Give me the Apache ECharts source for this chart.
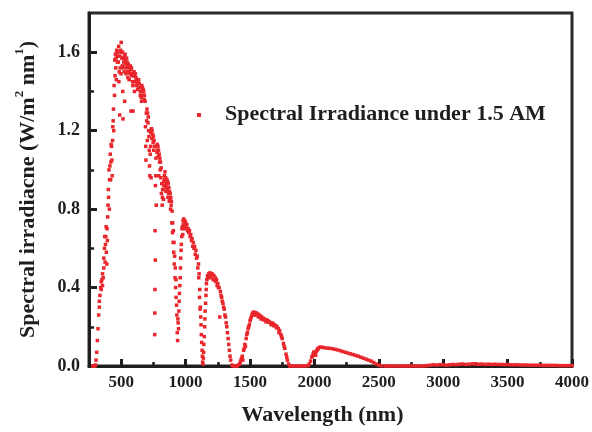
<!DOCTYPE html>
<html><head><meta charset="utf-8">
<script src="https://cdn.jsdelivr.net/npm/echarts@6/dist/echarts.min.js"></script>
<style>html,body{margin:0;padding:0;background:#fff}#c{width:592px;height:432px}</style>
</head><body><div id="c"></div>
<script>
// Wavelength (nm) and spectral irradiance (W/m^2/nm)
const wavelength = [
280,285,290,295,300,305,310,315,320,325,330,335,340,345,350,355,360,365,370,375,380,385,390,395,
400,405,410,415,420,425,430,435,440,445,450,455,460,465,470,475,480,485,490,495,500,505,510,515,
520,525,530,535,540,545,550,555,560,565,570,575,580,585,590,595,600,605,610,615,620,625,630,635,
640,645,650,655,660,665,670,675,680,685,690,695,700,705,710,715,720,725,730,735,740,745,750,755,
760,765,770,775,780,785,790,795,800,805,810,815,820,825,830,835,840,845,850,855,860,865,870,875,
880,885,890,895,900,905,910,915,920,925,930,935,940,945,950,955,960,965,970,975,980,985,990,995,
1000,1010,1020,1030,1040,1050,1060,1070,1080,1090,1100,1105,1110,1115,1120,1125,1130,1135,1140,1145,
1150,1155,1160,1165,1170,1180,1190,1200,1210,1220,1230,1240,1250,1260,1270,1280,1290,1300,1310,1320,
1330,1340,1350,1360,1370,1380,1390,1400,1410,1420,1430,1440,1450,1460,1470,1480,1490,1500,1510,1520,
1530,1540,1550,1560,1570,1580,1590,1600,1610,1620,1630,1640,1650,1660,1670,1680,1690,1700,1710,1720,
1730,1740,1750,1760,1770,1780,1790,1800,1810,1830,1850,1870,1890,1910,1930,1950,1960,1970,1980,1990,
2000,2010,2020,2030,2040,2050,2060,2080,2100,2120,2140,2160,2180,2200,2220,2240,2260,2280,2300,2320,
2340,2360,2380,2400,2420,2440,2460,2480,2500,2520,2550,2575,2600,2625,2650,2675,2700,2725,2750,2775,
2800,2825,2850,2875,2900,2925,2950,2975,3000,3025,3050,3075,3100,3125,3150,3175,3200,3225,3250,3275,
3300,3325,3350,3375,3400,3425,3450,3475,3500,3525,3550,3575,3600,3625,3650,3675,3700,3725,3750,3775,
3800,3825,3850,3875,3900,3925,3950,3975,4000
];
const irradiance = [
0,0,0,0,0.005,0.03,0.07,0.13,0.19,0.26,0.33,0.36,0.40,0.39,0.44,0.47,0.45,0.55,0.60,0.53,0.66,0.58,0.70,0.76,
0.90,1.00,0.95,1.08,1.04,1.12,0.97,1.22,1.31,1.43,1.56,1.59,1.57,1.61,1.55,1.60,1.63,1.50,1.58,1.61,1.65,1.57,1.60,1.52,
1.55,1.58,1.59,1.54,1.52,1.55,1.53,1.54,1.50,1.52,1.53,1.51,1.52,1.49,1.43,1.48,1.50,1.48,1.49,1.47,1.46,1.44,1.45,1.46,
1.44,1.42,1.40,1.37,1.43,1.42,1.41,1.40,1.38,1.35,1.12,1.29,1.31,1.29,1.27,1.17,1.02,1.08,1.19,1.21,1.20,1.18,1.17,1.15,
0.16,0.54,1.06,1.12,1.13,1.12,1.10,1.08,1.06,1.04,1.01,0.93,0.86,0.90,0.94,0.97,0.99,0.96,0.93,0.95,0.94,0.93,0.91,0.89,
0.88,0.86,0.84,0.79,0.73,0.69,0.63,0.56,0.50,0.44,0.31,0.17,0.24,0.19,0.33,0.41,0.50,0.59,0.66,0.71,0.74,0.75,0.74,0.74,
0.73,0.72,0.70,0.69,0.67,0.65,0.63,0.61,0.59,0.56,0.52,0.47,0.39,0.30,0.21,0.12,0.05,0.01,0.07,0.15,
0.24,0.32,0.39,0.44,0.46,0.47,0.475,0.47,0.465,0.46,0.45,0.44,0.42,0.40,0.38,0.35,0.32,0.29,0.25,0.20,
0.14,0.08,0.03,0.005,0,0,0,0,0.005,0.01,0.03,0.05,0.08,0.11,0.14,0.17,0.20,0.23,0.25,0.27,
0.275,0.27,0.27,0.265,0.26,0.255,0.25,0.245,0.24,0.235,0.235,0.23,0.225,0.22,0.22,0.215,0.21,0.205,0.20,0.19,
0.18,0.16,0.14,0.115,0.09,0.06,0.03,0.01,0,0,0,0,0,0,0,0.002,0.01,0.025,0.045,0.06,
0.07,0.055,0.08,0.09,0.095,0.096,0.095,0.093,0.091,0.09,0.088,0.085,0.082,0.078,0.074,0.07,0.066,0.062,0.058,0.054,
0.05,0.045,0.04,0.035,0.03,0.025,0.018,0.01,0.004,0.001,0,0,0,0,0,0,0,0,0,0,
0,0,0,0.002,0.004,0.006,0.005,0.007,0.006,0.004,0.006,0.008,0.007,0.009,0.010,0.008,0.009,0.011,0.010,0.009,
0.010,0.008,0.009,0.008,0.009,0.008,0.008,0.007,0.007,0.006,0.006,0.006,0.005,0.005,0.005,0.004,0.004,0.004,0.004,0.003,
0.003,0.003,0.003,0.003,0.002,0.002,0.002,0.002,0.002
];
// Extra scattered readings (absorption lines / spread of the cloud)
const spreadPoints = [
[330,0.30],[345,0.43],[355,0.41],[365,0.50],[372,0.66],[378,0.62],[383,0.71],[388,0.52],[393,0.64],[398,0.82],
[402,0.86],[408,0.80],[412,1.02],[418,0.95],[422,1.13],[428,1.05],[433,1.15],[438,1.25],[442,1.20],[448,1.38],
[452,1.48],[458,1.52],[462,1.46],[468,1.60],[472,1.58],[478,1.55],[482,1.45],[488,1.28],[492,1.52],[498,1.49],
[502,1.60],[508,1.53],[512,1.40],[514,1.26],[518,1.57],[522,1.50],[527,1.35],[532,1.56],[538,1.49],[542,1.57],
[548,1.50],[552,1.47],[558,1.53],[562,1.46],[568,1.49],[576,1.30],[582,1.48],[588,1.45],[592,1.30],[598,1.45],
[603,1.40],[612,1.45],[618,1.43],[628,1.41],[638,1.42],[648,1.38],[654,1.38],[658,1.35],[668,1.38],[678,1.36],
[688,1.22],[692,1.05],[698,1.25],[703,1.15],[708,1.24],[713,1.20],[718,1.10],[722,0.97],[724,1.20],[728,1.12],
[732,0.96],[738,1.16],[748,1.14],[752,1.10],[758,1.12],[761,0.27],[762,0.39],[763,0.69],[766,0.92],[768,0.97],
[772,0.82],[778,1.09],[782,1.10],[788,1.07],[792,0.97],[798,1.04],[803,1.00],[808,0.96],[812,0.88],[818,0.82],
[822,0.90],[828,0.85],[833,0.92],[838,0.95],[843,0.92],[848,0.89],[852,0.91],[858,0.90],[863,0.86],[868,0.88],
[873,0.84],[878,0.85],[883,0.80],[888,0.82],[893,0.73],[898,0.68],[903,0.63],[908,0.58],[912,0.52],[918,0.45],
[922,0.40],[926,0.35],[932,0.26],[938,0.13],[942,0.22],[948,0.28],[952,0.37],[958,0.45],[962,0.55],[967,0.62],
[972,0.70],[978,0.67],[982,0.72],[992,0.70],[1002,0.71],[1015,0.69],[1025,0.68],[1035,0.66],[1045,0.64],[1055,0.61],
[1065,0.60],[1075,0.57],[1085,0.55],[1095,0.50],[1102,0.45],[1108,0.35],[1112,0.29],[1118,0.25],[1122,0.16],[1128,0.08],
[1132,0.02],[1138,0.04],[1142,0.11],[1148,0.20],[1152,0.28],[1158,0.36],[1162,0.42],[1175,0.45],[1185,0.46],[1195,0.45],
[1205,0.47],[1215,0.44],[1225,0.44],[1235,0.43],[1245,0.41],[1255,0.40],[1265,0.25],[1275,0.36],[1285,0.33],[1295,0.30],
[1305,0.26],[1315,0.22],[1325,0.17],[1335,0.11],[1345,0.05],[1425,0.02],[1435,0.04],[1445,0.03],[1455,0.09],[1465,0.10],
[1475,0.16],[1485,0.19],[1495,0.21],[1505,0.24],[1515,0.26],[1525,0.26],[1545,0.26],[1565,0.25],[1585,0.24],[1605,0.235],
[1625,0.225],[1645,0.225],[1665,0.21],[1685,0.205],[1705,0.195],[1725,0.17],[1745,0.15],[1765,0.10],[1785,0.045],[1985,0.05],
[1995,0.07],[2005,0.06],[2015,0.075],[2025,0.085]
];
const xMajorTicks = [500,1000,1500,2000,2500,3000,3500,4000];
const xMinorTicks = [750,1250,1750,2250,2750,3250,3750];
const yMajorTicks = [0,0.4,0.8,1.2,1.6];
const yMinorTicks = [0.2,0.6,1.0,1.4];
const seriesName = 'Spectral Irradiance under 1.5 AM';
const xName = 'Wavelength (nm)';

const serif = "'Liberation Serif','Times New Roman',serif";
const red = '#e8262b';
const ink = '#1e1e1e';
const points = wavelength.map((w, i) => [w, irradiance[i]]).concat(spreadPoints);

const chart = echarts.init(document.getElementById('c'), null, {renderer: 'canvas'});
chart.setOption({
  animation: false,
  backgroundColor: '#fff',
  grid: {left: 89, right: 20, top: 13, bottom: 66, show: true, borderColor: '#2a2a2a', borderWidth: 3, backgroundColor: 'transparent'},
  xAxis: [{
    type: 'value', min: 250, max: 4000, interval: 250, position: 'bottom',
    name: xName, nameLocation: 'middle', nameGap: 38,
    nameTextStyle: {fontFamily: serif, fontWeight: 'bold', fontSize: 22, color: ink, padding: [0, 16, 0, 0]},
    axisLine: {show: true, onZero: false, lineStyle: {color: ink, width: 3}},
    axisTick: {show: true, inside: true, length: 7, lineStyle: {color: ink, width: 3}, customValues: xMajorTicks},
    axisLabel: {customValues: xMajorTicks, formatter: v => String(v), fontFamily: serif, fontWeight: 'bold', fontSize: 17, color: ink, margin: 8},
    splitLine: {show: false}
  }, {
    type: 'value', min: 250, max: 4000, interval: 250, position: 'bottom',
    axisLine: {show: false},
    axisTick: {show: true, inside: true, length: 4, lineStyle: {color: ink, width: 2.5}, customValues: xMinorTicks},
    axisLabel: {show: false}, splitLine: {show: false}
  }],
  yAxis: [{
    type: 'value', min: 0, max: 1.8, interval: 0.2, position: 'left',
    name: '{a|Spectral irradiacne (W/m}{s|2}{a| nm}{s|1}{a|)}',
    nameLocation: 'middle', nameRotate: 90, nameGap: 50,
    nameTextStyle: {
      rich: {
        a: {fontFamily: serif, fontWeight: 'bold', fontSize: 22, color: ink, lineHeight: 26, verticalAlign: 'bottom'},
        s: {fontFamily: serif, fontWeight: 'bold', fontSize: 13, color: ink, lineHeight: 26, verticalAlign: 'top'}
      }
    },
    axisLine: {show: true, onZero: false, lineStyle: {color: ink, width: 3}},
    axisTick: {show: true, inside: true, length: 8, lineStyle: {color: ink, width: 3}, customValues: yMajorTicks},
    axisLabel: {customValues: yMajorTicks, formatter: v => v.toFixed(1), fontFamily: serif, fontWeight: 'bold', fontSize: 18, color: ink, margin: 9},
    splitLine: {show: false}
  }, {
    type: 'value', min: 0, max: 1.8, interval: 0.2, position: 'left',
    axisLine: {show: false},
    axisTick: {show: true, inside: true, length: 5, lineStyle: {color: ink, width: 2.5}, customValues: yMinorTicks},
    axisLabel: {show: false}, splitLine: {show: false}
  }],
  graphic: [
    {type: 'rect', left: 197, top: 113, shape: {width: 4, height: 4}, style: {fill: red}},
    {type: 'text', left: 225, top: 103, style: {text: seriesName, font: "bold 22px 'Liberation Serif','Times New Roman',serif", fill: ink}}
  ],
  series: [{
    name: seriesName, type: 'scatter', xAxisIndex: 0, yAxisIndex: 0,
    symbol: 'rect', symbolSize: 3.5, itemStyle: {color: red, opacity: 1},
    data: points, z: 3
  }]
});
</script>
</body></html>
